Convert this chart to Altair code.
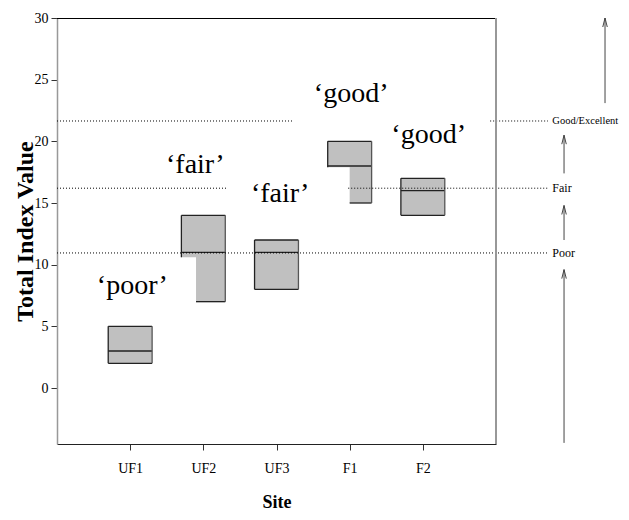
import json
import altair as alt
import pandas as pd

# ---- data ----
sites = ["UF1", "UF2", "UF3", "F1", "F2"]
site_pos = [1, 2, 3, 4, 5]
box_low = [2, 7, 8, 15, 14]
box_mid = [3, 11, 11, 18, 16]
box_high = [5, 14, 12, 20, 17]
upper_base = [3, 10.6, 11, 17.9, 16]      # lower end of the upper grey part
lower_shift = [-0.3, -0.1, -0.3, 0.0, -0.3]  # left edge of the lower part (offset)

rating_text = ["‘poor’", "‘fair’", "‘fair’", "‘good’", "‘good’"]
rating_x = [1.03, 1.89, 3.05, 4.02, 5.08]
rating_y = [7.6, 17.4, 15.1, 23.2, 19.9]

threshold_names = ["Poor", "Fair", "Good/Excellent"]
threshold_vals = [10.95, 16.2, 21.65]
threshold_size = [12, 12, 10.5]
# dotted threshold segments: value, start, end (site units)
dot_y = [21.65, 21.65, 16.2, 16.2, 10.95]
dot_x0 = [0, 5.92, 0, 3.98, 0]
dot_x1 = [3.23, 6.71, 2.32, 6.71, 6.71]

# arrows on the right: x, from, to (tip)
arrow_x = [6.93, 6.93, 6.93, 7.49]
arrow_from = [-4.45, 12.0, 17.4, 23.1]
arrow_to = [9.6, 14.8, 20.5, 30.0]

y_ticks = [0, 5, 10, 15, 20, 25, 30]

HW = 0.3
FONT = "Liberation Serif"
W, H = 439, 426

xs = alt.Scale(domain=[0, 6], nice=False, zero=False)
ys = alt.Scale(domain=[-4.54, 30], nice=False, zero=False)

label_expr = json.dumps([""] + sites) + "[datum.value]"
x_axis = alt.Axis(values=site_pos, labelExpr=label_expr, grid=False,
                  tickSize=6, labelPadding=11, labelFontSize=14, labelFont=FONT,
                  labelColor="black", tickColor="#333", domainColor="#222",
                  titleFont=FONT, titleFontSize=18, titleFontWeight="bold",
                  titleColor="black", titleBaseline="alphabetic", titleY=63)
y_axis = alt.Axis(values=y_ticks, grid=False, tickSize=6, labelPadding=3,
                  labelFontSize=14, labelFont=FONT, labelColor="black",
                  tickColor="#333", domainColor="#999", domainWidth=1.5,
                  titleFont=FONT, titleFontSize=24, titleFontWeight="bold",
                  titleColor="black", titleBaseline="alphabetic", titleX=-25)


def X(f):
    return alt.X(f, type="quantitative", scale=xs, axis=x_axis, title="Site")


def Y(f):
    return alt.Y(f, type="quantitative", scale=ys, axis=y_axis, title="Total Index Value")


# ---- build tables ----
upper = pd.DataFrame({
    "x0": [p - HW for p in site_pos], "x1": [p + HW for p in site_pos],
    "y0": upper_base, "y1": box_high})
lower = pd.DataFrame({
    "x0": [p + s for p, s in zip(site_pos, lower_shift)],
    "x1": [p + HW for p in site_pos], "y0": box_low, "y1": box_mid})
fills = pd.concat([upper, lower], ignore_index=True)

edges = []
for p, lo, md, hi, ub, s in zip(site_pos, box_low, box_mid, box_high, upper_base, lower_shift):
    edges.append(dict(x0=p - HW, x1=p + HW, y0=hi, y1=hi, c="d"))
    edges.append(dict(x0=p - HW, x1=p + HW, y0=md, y1=md, c="d"))
    edges.append(dict(x0=p + s, x1=p + HW, y0=lo, y1=lo, c="d"))
    edges.append(dict(x0=p + HW, x1=p + HW, y0=lo, y1=hi, c="r"))
    if s <= -HW:
        edges.append(dict(x0=p - HW, x1=p - HW, y0=lo, y1=hi, c="d"))
    else:
        edges.append(dict(x0=p - HW, x1=p - HW, y0=ub, y1=hi, c="d"))
edges = pd.DataFrame(edges)

dots = pd.DataFrame({"y": dot_y, "x0": dot_x0, "x1": dot_x1})
ratings = pd.DataFrame({"t": rating_text, "x": rating_x, "y": rating_y})
thr = pd.DataFrame({"t": threshold_names, "y": threshold_vals,
                    "x": [6.77] * 3, "s": threshold_size})
arrows = pd.DataFrame({"x": arrow_x, "y0": arrow_from, "y1": arrow_to})

# ---- layers ----
fill_layer = alt.Chart(fills).mark_rect(fill="#c0c0c0", strokeWidth=0).encode(
    x=X("x0"), x2="x1", y=Y("y0"), y2="y1")

edge_dark = alt.Chart(edges[edges.c == "d"]).mark_rule(color="#222", strokeWidth=1.3).encode(
    x=X("x0"), x2="x1", y=Y("y0"), y2="y1")
edge_right = alt.Chart(edges[edges.c == "r"]).mark_rule(color="#555", strokeWidth=1.3).encode(
    x=X("x0"), x2="x1", y=Y("y0"), y2="y1")

dot_layer = alt.Chart(dots).mark_rule(color="black", strokeWidth=1, strokeDash=[1, 2]).encode(
    x=X("x0"), x2="x1", y=Y("y"))

rating_layer = alt.Chart(ratings).mark_text(
    font=FONT, fontSize=28, align="center", baseline="alphabetic", color="black").encode(
    x=X("x"), y=Y("y"), text="t")

thr_layer = alt.Chart(thr).mark_text(
    font=FONT, align="left", baseline="middle", color="black").encode(
    x=X("x"), y=Y("y"), text="t",
    size=alt.Size("s", type="quantitative", scale=None, legend=None))

arrow_lines = alt.Chart(arrows).mark_rule(color="#444", strokeWidth=1).encode(
    x=X("x"), y=Y("y0"), y2="y1")
arrow_heads = alt.Chart(arrows).mark_point(
    shape="M-0.5,2L0,0L0.5,2", filled=False, stroke="#444", strokeWidth=1,
    size=81, opacity=1).encode(x=X("x"), y=Y("y1"))

frame_top = alt.Chart(dots).mark_rule(color="black", strokeWidth=1).encode(
    x=alt.value(0), x2=alt.value(W), y=alt.value(0.5))
frame_right = alt.Chart(dots).mark_rule(color="#999", strokeWidth=1.5).encode(
    x=alt.value(W), y=alt.value(0), y2=alt.value(H))

chart = alt.layer(
    fill_layer, edge_dark, edge_right, dot_layer, rating_layer, thr_layer,
    arrow_lines, arrow_heads, frame_top, frame_right
).properties(
    width=W, height=H,
    autosize=alt.AutoSizeParams(type="none"),
    padding={"left": 49, "top": 10, "right": 125, "bottom": 68},
).configure_view(stroke=None).configure(background="white")

chart.save("out.html", embed_options={"renderer": "svg", "actions": False})
